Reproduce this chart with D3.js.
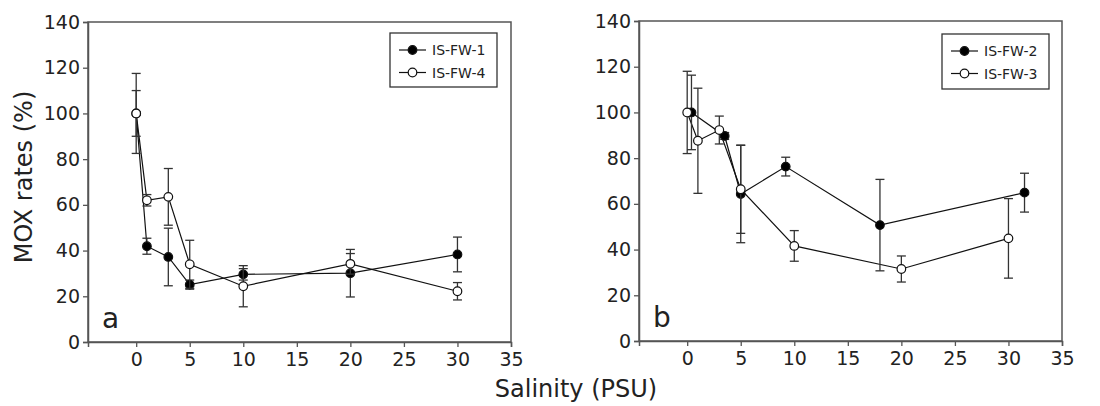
<!DOCTYPE html>
<html>
<head>
<meta charset="utf-8">
<script src="https://cdn.jsdelivr.net/npm/d3@7"></script>
<style>
  body { margin: 0; background: #fff; }
  svg text { font-family: "DejaVu Sans", sans-serif; fill: #222; }
</style>
</head>
<body>
<div id="chart"></div>
<script>
// salinity (PSU), mean MOX rate (%), error (+/-)
const fw1X = [0, 1, 3, 5, 10, 20, 30];
const fw1Y = [100, 41.9, 37.2, 25.1, 29.6, 30.1, 38.3];
const fw1E = [10, 3.5, 12.6, 2, 2.5, 10.4, 7.6];

const fw4X = [0, 1, 3, 5, 10, 20, 30];
const fw4Y = [100, 62, 63.5, 34, 24.4, 34.2, 22.2];
const fw4E = [17.5, 2.5, 12.4, 10.5, 9, 4.5, 3.8];

const fw2X = [0.4, 3.5, 5, 9.2, 18, 31.5];
const fw2Y = [100, 89.7, 64.3, 76.3, 50.7, 64.9];
const fw2E = [16.3, 1.5, 21.3, 4.1, 20, 8.5];

const fw3X = [0, 1, 3, 5, 10, 20, 30];
const fw3Y = [100, 87.6, 92.3, 66.4, 41.6, 31.5, 44.9];
const fw3E = [18, 23, 6.1, 19.3, 6.7, 5.7, 17.4];

const xTicks = [0, 5, 10, 15, 20, 25, 30, 35];
const yTicks = [0, 20, 40, 60, 80, 100, 120, 140];

function zip(xs, ys, es) {
    return xs.map((x, i) => ({x: x, y: ys[i], e: es[i]}));
}

const panels = [
    {
        letter: "a", left: 88, right: 511, top: 22, bottom: 342,
        legend: {x: 390, y: 33, w: 107, h: 54},
        series: [
            {name: "IS-FW-1", fill: "#000", data: zip(fw1X, fw1Y, fw1E)},
            {name: "IS-FW-4", fill: "#fff", data: zip(fw4X, fw4Y, fw4E)}
        ]
    },
    {
        letter: "b", left: 639, right: 1062, top: 21, bottom: 341,
        legend: {x: 942, y: 34, w: 107, h: 55},
        series: [
            {name: "IS-FW-2", fill: "#000", data: zip(fw2X, fw2Y, fw2E)},
            {name: "IS-FW-3", fill: "#fff", data: zip(fw3X, fw3Y, fw3E)}
        ]
    }
];

const svg = d3.select("#chart").append("svg")
    .attr("width", 1100)
    .attr("height", 406);

const axisColor = "#555";

panels.forEach(function (p) {
    let x = d3.scaleLinear().domain([-4.5, 35]).range([p.left, p.right]);
    let y = d3.scaleLinear().domain([0, 140]).range([p.bottom, p.top]);

    let g = svg.append("g");

    // frame (top and right)
    g.append("rect")
        .attr("x", p.left).attr("y", p.top)
        .attr("width", p.right - p.left).attr("height", p.bottom - p.top)
        .style("fill", "none").style("stroke", axisColor).style("stroke-width", 1.5);

    // axes
    let xAxis = g.append("g")
        .attr("transform", "translate(0," + p.bottom + ")")
        .call(d3.axisBottom(x).tickValues(xTicks).tickSize(5).tickPadding(6).tickFormat(d3.format("d")));
    let yAxis = g.append("g")
        .attr("transform", "translate(" + p.left + ",0)")
        .call(d3.axisLeft(y).tickValues(yTicks).tickSize(5).tickPadding(3).tickFormat(d3.format("d")));

    [xAxis, yAxis].forEach(function (a) {
        a.select(".domain").style("stroke", axisColor).style("stroke-width", 1.5);
        a.selectAll(".tick line").style("stroke", axisColor).style("stroke-width", 1.3);
        a.selectAll(".tick text").style("font-size", "19px").style("fill", "#222")
            .style("font-family", "DejaVu Sans, sans-serif");
    });

    // panel letter
    g.append("text")
        .attr("x", p.left + 14).attr("y", p.bottom - 14)
        .style("font-size", "28px")
        .text(p.letter);

    let line = d3.line().x(d => x(d.x)).y(d => y(d.y));

    // connecting lines
    p.series.forEach(function (s) {
        g.append("path")
            .datum(s.data)
            .attr("d", line)
            .style("fill", "none").style("stroke", "#111").style("stroke-width", 1.2);
    });

    // error bars and markers, open series on top
    p.series.forEach(function (s) {
        let eb = g.append("g").selectAll("g")
            .data(s.data).enter().append("g");
        eb.append("line")
            .attr("x1", d => x(d.x)).attr("x2", d => x(d.x))
            .attr("y1", d => y(d.y - d.e)).attr("y2", d => y(d.y + d.e));
        eb.append("line")
            .attr("x1", d => x(d.x) - 4.5).attr("x2", d => x(d.x) + 4.5)
            .attr("y1", d => y(d.y + d.e)).attr("y2", d => y(d.y + d.e));
        eb.append("line")
            .attr("x1", d => x(d.x) - 4.5).attr("x2", d => x(d.x) + 4.5)
            .attr("y1", d => y(d.y - d.e)).attr("y2", d => y(d.y - d.e));
        eb.selectAll("line").style("stroke", "#333").style("stroke-width", 1.3);

        g.append("g").selectAll("circle")
            .data(s.data).enter().append("circle")
            .attr("cx", d => x(d.x)).attr("cy", d => y(d.y))
            .attr("r", 4.3)
            .style("fill", s.fill).style("stroke", "#111").style("stroke-width", 1.2);
    });

    // legend
    let lg = g.append("g").attr("transform", "translate(" + p.legend.x + "," + p.legend.y + ")");
    lg.append("rect")
        .attr("width", p.legend.w).attr("height", p.legend.h)
        .style("fill", "#fff").style("stroke", "#333").style("stroke-width", 1.3);
    p.series.forEach(function (s, i) {
        let ly = 17 + i * 22.5;
        lg.append("line")
            .attr("x1", 9).attr("x2", 36).attr("y1", ly).attr("y2", ly)
            .style("stroke", "#111").style("stroke-width", 1.2);
        lg.append("circle")
            .attr("cx", 22.5).attr("cy", ly).attr("r", 4.3)
            .style("fill", s.fill).style("stroke", "#111").style("stroke-width", 1.2);
        lg.append("text")
            .attr("x", 42).attr("y", ly + 5)
            .style("font-size", "14px")
            .text(s.name);
    });
});

// axis titles
svg.append("text")
    .attr("transform", "translate(32,177) rotate(-90)")
    .attr("text-anchor", "middle")
    .style("font-size", "24px")
    .text("MOX rates (%)");

svg.append("text")
    .attr("x", 576).attr("y", 397)
    .attr("text-anchor", "middle")
    .style("font-size", "24px")
    .text("Salinity (PSU)");
</script>
</body>
</html>
